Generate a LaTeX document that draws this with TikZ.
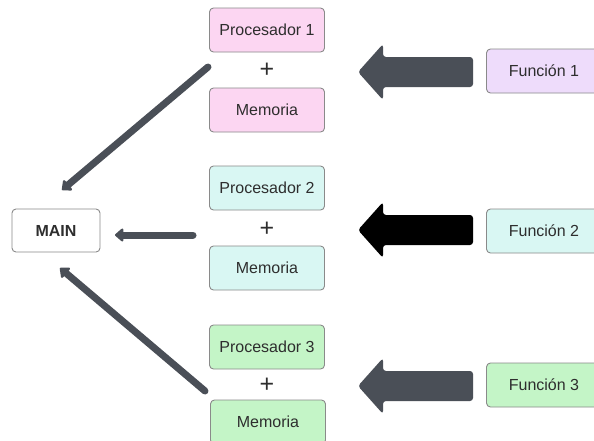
\documentclass[tikz,border=0pt]{standalone}
\usepackage{fontspec}
\setmainfont{Liberation Sans}
\usetikzlibrary{arrows.meta}
\definecolor{boxline}{HTML}{8A8A8A}
\definecolor{txt}{HTML}{2E2E2E}
\definecolor{pinkf}{HTML}{FCD6F2}
\definecolor{lilacf}{HTML}{EEDCFB}
\definecolor{cyanf}{HTML}{D9F7F3}
\definecolor{greenf}{HTML}{C4F5C7}
\definecolor{slate}{HTML}{4A4F57}
\tikzset{
  card/.style={draw=boxline, line width=0.9pt, rounded corners=4pt,
    minimum width=115pt, minimum height=44pt, inner sep=0pt,
    text=txt, font=\fontsize{16}{18}\selectfont},
  plus/.style={text=txt, font=\fontsize{25}{26}\selectfont, inner sep=0pt},
  conn/.style={draw=slate, line width=7pt, line cap=round,
    -{Triangle[length=9pt,width=15pt,round]}},
  block/.style={fill=#1, rounded corners=3pt},
}
\newcommand{\blockarrow}[2]{%
  \fill[block=#2] (473,#1-15) -- (383,#1-15) -- (383,#1-28) -- (358,#1)
    -- (383,#1+28) -- (383,#1+15) -- (473,#1+15) -- cycle;}
\begin{document}
\begin{tikzpicture}[x=1pt,y=-1pt]
\useasboundingbox (0,0) rectangle (594,440);
\clip (0,0) rectangle (594,440);
\fill[white] (0,0) rectangle (594,440);

% processor + memory stacks
\node[card, fill=pinkf]  (p1) at (267,30)  {Procesador 1};
\node[plus]              (s1) at (267,70)  {+};
\node[card, fill=pinkf]  (m1) at (267,110) {Memoria};

\node[card, fill=cyanf]  (p2) at (267,188) {Procesador 2};
\node[plus]              (s2) at (267,229) {+};
\node[card, fill=cyanf]  (m2) at (267,268) {Memoria};

\node[card, fill=greenf] (p3) at (267,347) {Procesador 3};
\node[plus]              (s3) at (267,385) {+};
\node[card, fill=greenf] (m3) at (268,422) {Memoria};

% main program
\node[card, fill=white, minimum width=88pt, minimum height=43pt,
      font=\bfseries\fontsize{16}{18}\selectfont] (main) at (56,230.5) {MAIN};

% functions
\node[card, fill=lilacf] (f1) at (544,71)  {Función 1};
\node[card, fill=cyanf]  (f2) at (544,231) {Función 2};
\node[card, fill=greenf] (f3) at (544,385) {Función 3};

% block arrows from functions to the stacks
\blockarrow{72}{slate}
\blockarrow{230}{black}
\blockarrow{386}{slate}

% results flowing back to main
\coordinate (t1) at (208,67);
\coordinate (h1) at (62,190);
\coordinate (t2) at (193,235);
\coordinate (h2) at (115,235);
\coordinate (t3) at (205,391);
\coordinate (h3) at (60,268);
\draw[conn] (t1) -- (h1);
\draw[conn] (t2) -- (h2);
\draw[conn] (t3) -- (h3);
\end{tikzpicture}
\end{document}
